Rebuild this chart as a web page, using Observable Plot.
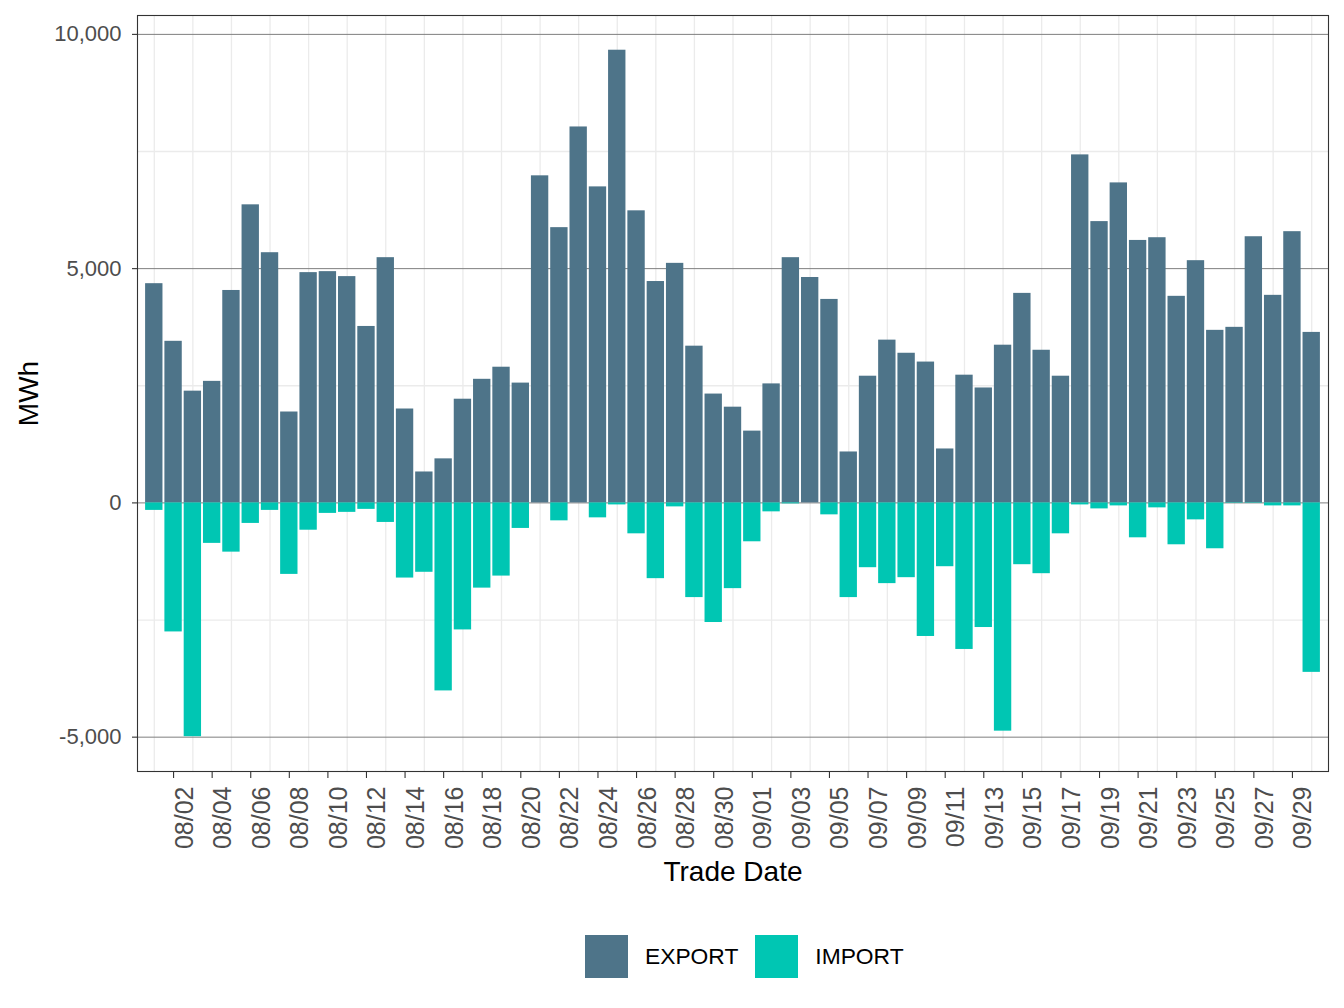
<!DOCTYPE html>
<html><head><meta charset="utf-8">
<script src="https://cdn.jsdelivr.net/npm/d3@7"></script>
<script src="https://cdn.jsdelivr.net/npm/@observablehq/plot@0.6"></script>
<style>
body{margin:0;background:#fff;font-family:"Liberation Sans",Arial,Helvetica,sans-serif;}
#wrap{position:relative;width:1344px;height:1008px;overflow:hidden;}
#legend{position:absolute;top:935px;left:585px;height:43px;display:flex;align-items:center;font-size:22.8px;color:#000;}
.sw{width:43px;height:43px;flex:none;}
.lb{margin-left:17px;margin-right:17px;}
</style></head><body><div id="wrap"><div id="chart"></div><div id="legend"></div></div>
<script>
const dates = ["08/01","08/02","08/03","08/04","08/05","08/06","08/07","08/08","08/09","08/10",
"08/11","08/12","08/13","08/14","08/15","08/16","08/17","08/18","08/19","08/20",
"08/21","08/22","08/23","08/24","08/25","08/26","08/27","08/28","08/29","08/30","08/31",
"09/01","09/02","09/03","09/04","09/05","09/06","09/07","09/08","09/09","09/10",
"09/11","09/12","09/13","09/14","09/15","09/16","09/17","09/18","09/19","09/20",
"09/21","09/22","09/23","09/24","09/25","09/26","09/27","09/28","09/29","09/30"];
const exportMWh = [4679,3449,2385,2594,4534,6362,5340,1940,4915,4936,
4830,3766,5234,2004,660,940,2213,2638,2896,2557,
6981,5875,8024,6745,9662,6234,4725,5113,3345,2323,2043,
1532,2540,5234,4811,4343,1087,2704,3474,3194,3006,
1151,2726,2453,3366,4472,3258,2704,7428,6004,6830,
5602,5660,4409,5170,3683,3747,5681,4430,5789,3639];
const importMWh = [-160,-2754,-4990,-864,-1051,-438,-160,-1526,-583,-224,
-202,-138,-417,-1604,-1481,-4013,-2711,-1819,-1562,-545,
0,-383,0,-319,-43,-660,-1617,-85,-2021,-2553,-1830,
-830,-191,-21,0,-255,-2021,-1383,-1723,-1596,-2851,
-1362,-3128,-2660,-4872,-1319,-1511,-660,-43,-128,-64,
-745,-106,-894,-362,-979,-10,-10,-64,-64,-3617];
const seriesNames = ["EXPORT","IMPORT"];
const seriesColors = ["#4e7489","#00c6b3"];
const yTicks = [-5000,0,5000,10000];
const yMinor = [-2500,2500,7500];
const barWidth = 0.9;
const idx = dates.map((d,i)=>i);
const xTicks = idx.filter(i=>i%2===1);
const xMinor = idx.filter(i=>i%2===0);

const rows = dates.flatMap((d,i)=>[
  {i, date:d, type:seriesNames[0], value:exportMWh[i]},
  {i, date:d, type:seriesNames[1], value:importMWh[i]}
]);
const font = "Liberation Sans, Arial, Helvetica, sans-serif";
const plot = Plot.plot({
  width:1344, height:900,
  marginLeft:137, marginRight:16, marginTop:15, marginBottom:129,
  style:{fontFamily:font, background:"#fff", overflow:"visible"},
  x:{type:"linear", domain:[-0.87, dates.length - 1 + 0.87], axis:null},
  y:{domain:[-5733,10403], axis:null},
  color:{domain:seriesNames, range:seriesColors},
  marks:[
    Plot.gridX(xMinor,{stroke:"#ebebeb",strokeOpacity:1,strokeWidth:1.3}),
    Plot.gridY(yMinor,{stroke:"#ebebeb",strokeOpacity:1,strokeWidth:1.3}),
    Plot.gridY(yTicks,{stroke:"#7f7f7f",strokeOpacity:1,strokeWidth:1}),
    Plot.rectY(rows,{x1:d=>d.i-barWidth/2, x2:d=>d.i+barWidth/2, y1:0, y2:"value", fill:"type"}),
    Plot.frame({stroke:"#333333",strokeWidth:1.1}),
    Plot.axisY(yTicks,{tickSize:5,tickPadding:11,stroke:"#333333",strokeWidth:1.1,fill:"#4d4d4d",fontSize:22,
      tickFormat:d=>d.toLocaleString("en-US"),label:null}),
    Plot.axisX(xTicks,{tickSize:7,stroke:"#333333",strokeWidth:1.1,tickFormat:()=>"",label:null}),
    Plot.text(xTicks,{x:d=>d, text:d=>dates[d], frameAnchor:"bottom", rotate:-90, textAnchor:"end",
      lineAnchor:"middle", dy:15, dx:11, fontSize:25, fill:"#4d4d4d", fontFamily:font}),
    Plot.text(["MWh"],{frameAnchor:"left",textAnchor:"middle",lineAnchor:"middle",dx:-108,rotate:-90,fontSize:28,fill:"#000",fontFamily:font}),
    Plot.text(["Trade Date"],{frameAnchor:"bottom",textAnchor:"middle",lineAnchor:"middle",dy:101,fontSize:28,fill:"#000",fontFamily:font})
  ]
});
document.getElementById("chart").appendChild(plot);

const lg = document.getElementById("legend");
seriesNames.forEach((n,i)=>{
  const s=document.createElement("div"); s.className="sw"; s.style.background=seriesColors[i]; lg.appendChild(s);
  const t=document.createElement("span"); t.className="lb"; t.textContent=n; lg.appendChild(t);
});
</script></body></html>
